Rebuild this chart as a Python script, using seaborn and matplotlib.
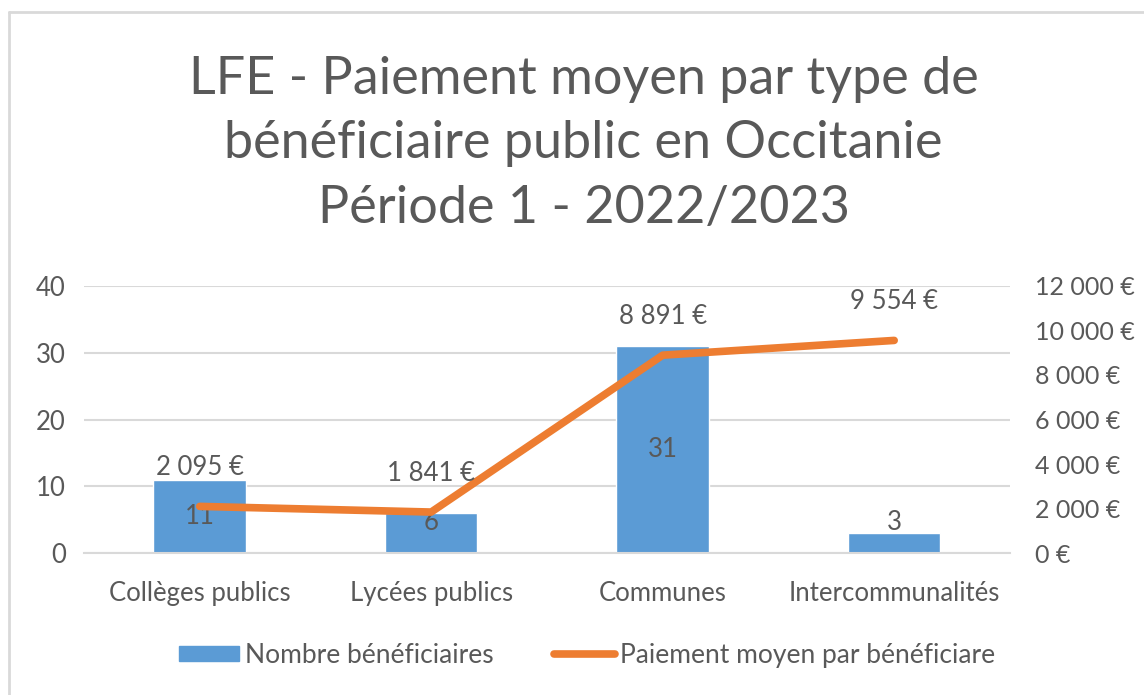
import matplotlib
matplotlib.use('Agg')
import matplotlib.pyplot as plt
import seaborn as sns
import pandas as pd
from matplotlib.lines import Line2D
from matplotlib.patches import Patch

# Données
categories = ['Collèges publics', 'Lycées publics', 'Communes', 'Intercommunalités']
nb_beneficiaires = [11, 6, 31, 3]
paiement_moyen = [2095, 1841, 8891, 9554]

df = pd.DataFrame({'Type': categories, 'Nombre': nb_beneficiaires, 'Paiement': paiement_moyen})

sns.set_theme(style='white')
plt.rcParams['font.family'] = ['Lato', 'DejaVu Sans']
gris = '#595959'
bleu = '#5B9BD5'
orange = '#ED7D31'

fig = plt.figure(figsize=(11.44, 6.95), dpi=100)
ax = fig.add_axes([0.0734, 0.2043, 0.8094, 0.3842])

# Barres : nombre de bénéficiaires
sns.barplot(data=df, x='Type', y='Nombre', color=bleu, width=0.4, ax=ax, saturation=1)
ax.set_ylim(0, 40)
ax.set_xlim(-0.5, 3.5)
ax.set_yticks([0, 10, 20, 30, 40])
ax.yaxis.grid(True, color='#d9d9d9', linewidth=1.5)
ax.set_axisbelow(True)
for s in ['top', 'right', 'left']:
    ax.spines[s].set_visible(False)
ax.spines['bottom'].set_color('#d9d9d9')
ax.spines['bottom'].set_linewidth(1.5)
ax.set_xlabel('')
ax.set_ylabel('')
ax.tick_params(axis='both', length=0, labelsize=18.5, labelcolor=gris)
ax.tick_params(axis='y', pad=13)
ax.tick_params(axis='x', pad=20)

# Étiquettes des barres (au centre)
for i, v in enumerate(nb_beneficiaires):
    ax.text(i, max(v / 2, 4.5), str(v), ha='center', va='center', fontsize=18.5, color=gris)

# Ligne : paiement moyen (axe secondaire)
ax2 = ax.twinx()
sns.lineplot(data=df, x='Type', y='Paiement', sort=False, color=orange, linewidth=5.5,
             solid_capstyle='round', ax=ax2)
ax2.set_ylim(0, 12000)
ax2.set_yticks(range(0, 12001, 2000))
ax2.set_yticklabels([f'{v:,}'.replace(',', ' ') + ' €' for v in range(0, 12001, 2000)])
ax2.tick_params(axis='y', length=0, labelsize=18, labelcolor=gris, pad=18)
for s in ax2.spines.values():
    s.set_visible(False)
ax2.set_xlabel('')
ax2.set_ylabel('')

for i, v in enumerate(paiement_moyen):
    lab = f'{v:,}'.replace(',', ' ') + ' €'
    ax2.annotate(lab, (i, v), xytext=(0, 28), textcoords='offset points',
                 ha='center', va='center', fontsize=18.5, color=gris)

# Titre
fig.text(0.51, 0.793, 'LFE - Paiement moyen par type de\nbénéficiaire public en Occitanie\nPériode 1 - 2022/2023',
         ha='center', va='center', fontsize=37.5, color=gris, linespacing=1.47)

# Légende
handles = [Patch(facecolor=bleu, edgecolor=bleu),
           Line2D([0], [0], color=orange, linewidth=5.5, solid_capstyle='round')]
labels = ['Nombre bénéficiaires', 'Paiement moyen par bénéficiare']
fig.legend(handles, labels, loc='center', bbox_to_anchor=(0.513, 0.057), ncol=2,
           frameon=False, fontsize=19, labelcolor=gris, handlelength=2.3, handleheight=0.5,
           handletextpad=0.2, columnspacing=2.3)

# Cadre (haut et gauche visibles)
fig.add_artist(Line2D([0.008, 1.0], [0.983, 0.983], transform=fig.transFigure, color='#d9d9d9', linewidth=2))
fig.add_artist(Line2D([0.008, 0.008], [0.0, 0.983], transform=fig.transFigure, color='#d9d9d9', linewidth=2))

fig.savefig('out.png', dpi=100, facecolor='white')
